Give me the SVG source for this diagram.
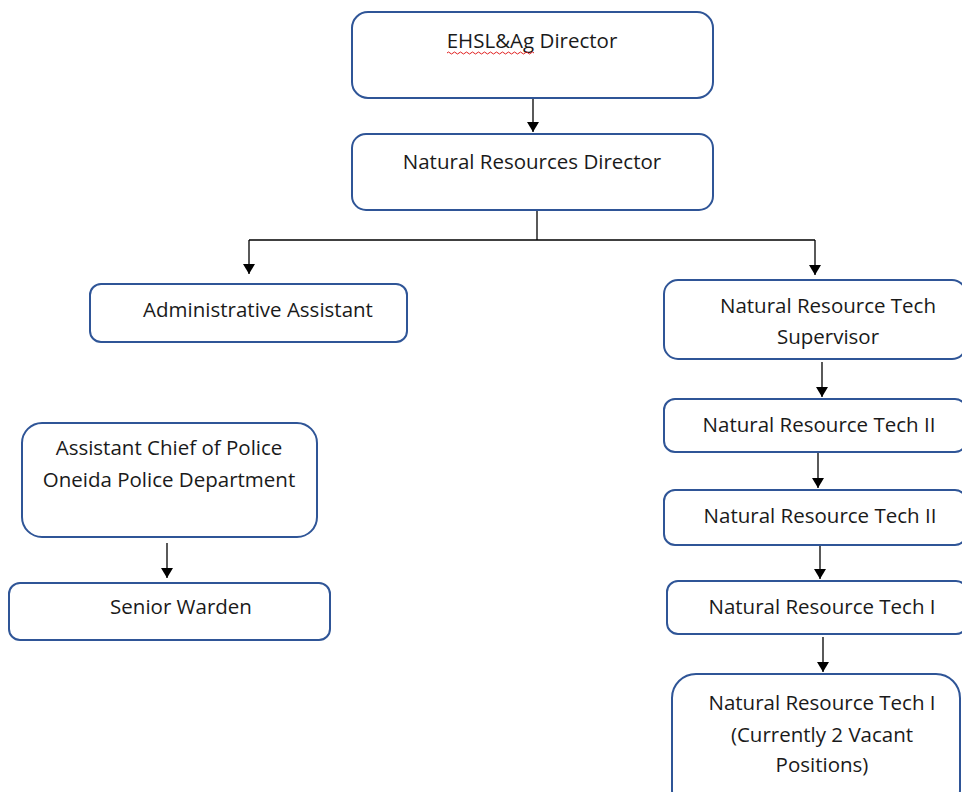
<svg xmlns="http://www.w3.org/2000/svg" width="962" height="792" viewBox="0 0 962 792">
<style>
.box{fill:#fff;stroke:#2f5597;stroke-width:2}
.t{font-family:"Open Sans","Liberation Sans",Arial,sans-serif;font-size:20.5px;fill:#1a1a1a;text-anchor:middle}
.c{fill:none;stroke:#000;stroke-width:1.3}
</style>
<defs>
<marker id="ah" viewBox="0 0 10 12" refX="10" refY="6" markerWidth="10" markerHeight="12" markerUnits="userSpaceOnUse" orient="auto">
<path d="M0,0 L10,6 L0,12 Z" fill="#000"/>
</marker>
</defs>
<rect width="962" height="792" fill="#fff"/>
<g id="connectors">
<path class="c" d="M533,98 V132" marker-end="url(#ah)"/>
<path class="c" d="M537,210 V240"/>
<path class="c" d="M249,240 H815"/>
<path class="c" d="M249,240 V274" marker-end="url(#ah)"/>
<path class="c" d="M815,240 V275" marker-end="url(#ah)"/>
<path class="c" d="M822,362 V397" marker-end="url(#ah)"/>
<path class="c" d="M818,453 V488" marker-end="url(#ah)"/>
<path class="c" d="M820,546 V579" marker-end="url(#ah)"/>
<path class="c" d="M823,637 V672" marker-end="url(#ah)"/>
<path class="c" d="M167,543 V578" marker-end="url(#ah)"/>
</g>
<g id="ehsl">
<rect class="box" x="352" y="12" width="361" height="86" rx="16"/>
<text class="t" x="532" y="48">EHSL&amp;Ag Director</text>
<path d="M447,53 q1.5,-2 3,0 t3,0 t3,0 t3,0 t3,0 t3,0 t3,0 t3,0 t3,0 t3,0 t3,0 t3,0 t3,0 t3,0 t3,0 t3,0 t3,0 t3,0 t3,0 t3,0 t3,0 t3,0 t3,0 t3,0 t3,0 t3,0 t3,0 t3,0 t3,0" fill="none" stroke="#e02020" stroke-width="1"/>
</g>
<g id="nrd">
<rect class="box" x="352" y="134" width="361" height="76" rx="14"/>
<text class="t" x="532" y="169">Natural Resources Director</text>
</g>
<g id="admin">
<rect class="box" x="90" y="284" width="317" height="58" rx="11"/>
<text class="t" x="258" y="317">Administrative Assistant</text>
</g>
<g id="sup">
<rect class="box" x="664" y="280" width="302" height="79" rx="14"/>
<text class="t" x="828" y="313">Natural Resource Tech</text>
<text class="t" x="828" y="344">Supervisor</text>
</g>
<g id="tech2a">
<rect class="box" x="664" y="399" width="302" height="53" rx="11"/>
<text class="t" x="819" y="432">Natural Resource Tech II</text>
</g>
<g id="tech2b">
<rect class="box" x="664" y="490" width="302" height="55" rx="11"/>
<text class="t" x="820" y="523">Natural Resource Tech II</text>
</g>
<g id="tech1a">
<rect class="box" x="667" y="581" width="300" height="53" rx="11"/>
<text class="t" x="822" y="614">Natural Resource Tech I</text>
</g>
<g id="tech1b">
<rect class="box" x="672" y="674" width="288" height="140" rx="24"/>
<text class="t" x="822" y="710">Natural Resource Tech I</text>
<text class="t" x="822" y="742">(Currently 2 Vacant</text>
<text class="t" x="822" y="772">Positions)</text>
</g>
<g id="police">
<rect class="box" x="22" y="423" width="295" height="114" rx="20"/>
<text class="t" x="169" y="455">Assistant Chief of Police</text>
<text class="t" x="169" y="487">Oneida Police Department</text>
</g>
<g id="warden">
<rect class="box" x="9" y="583" width="321" height="57" rx="11"/>
<text class="t" x="181" y="614">Senior Warden</text>
</g>
</svg>
